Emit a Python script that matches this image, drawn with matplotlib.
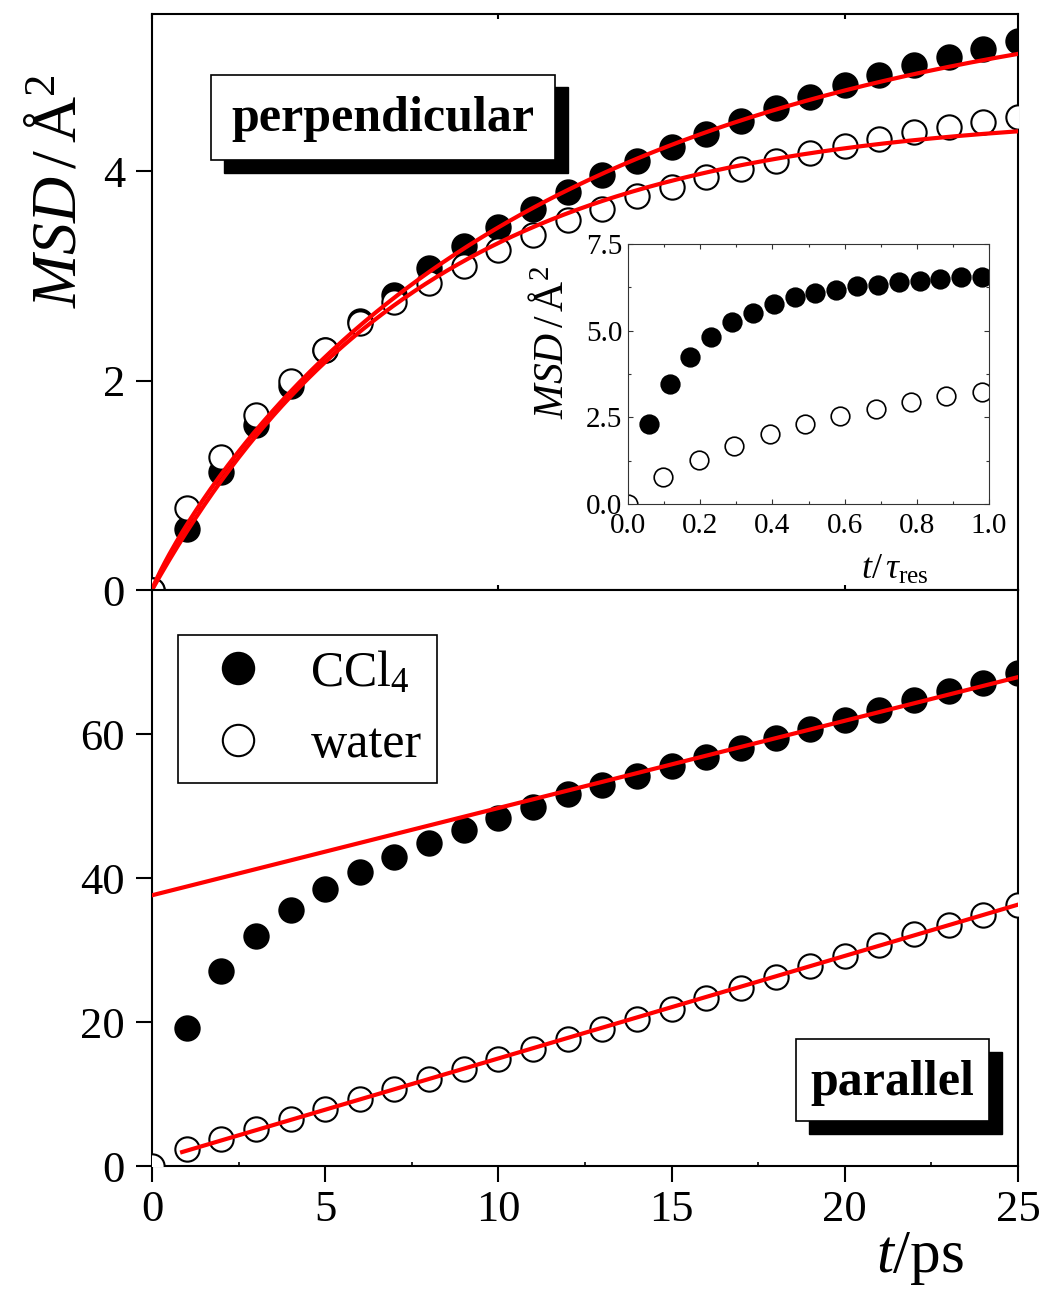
import matplotlib
matplotlib.use('Agg')
import matplotlib.pyplot as plt
import numpy as np
from matplotlib.patches import Rectangle
from matplotlib.lines import Line2D
from matplotlib.ticker import MultipleLocator, FixedLocator

plt.rcParams['font.family'] = ['Liberation Serif', 'DejaVu Serif']
plt.rcParams['mathtext.fontset'] = 'custom'
plt.rcParams['mathtext.rm'] = 'Liberation Serif'
plt.rcParams['mathtext.it'] = 'Liberation Serif:italic'
plt.rcParams['mathtext.bf'] = 'Liberation Serif:bold'

# ---------------- data ----------------
t_ps = list(range(0, 26))
t_ps_from1 = list(range(1, 26))

# perpendicular MSD (Å^2)
perp_ccl4 = [0, 0.58, 1.13, 1.58, 1.95, 2.29, 2.57, 2.82, 3.07, 3.28, 3.47, 3.64, 3.80,
             3.96, 4.10, 4.23, 4.35, 4.48, 4.60, 4.71, 4.82, 4.92, 5.01, 5.09, 5.17, 5.24]
perp_water = [0, 0.78, 1.27, 1.67, 2.00, 2.29, 2.55, 2.75, 2.93, 3.09, 3.25, 3.39, 3.53,
              3.64, 3.76, 3.85, 3.94, 4.02, 4.10, 4.17, 4.24, 4.31, 4.37, 4.42, 4.47, 4.52]

# fit parameters A*(1-exp(-(t/tau)^beta)) for perpendicular
fit_ccl4_A, fit_ccl4_tau, fit_ccl4_beta = 5.91, 11.5, 0.9
fit_water_A, fit_water_tau, fit_water_beta = 4.557, 7.7, 1.0

# parallel MSD (Å^2)
par_ccl4 = [19.2, 27.1, 31.9, 35.6, 38.5, 40.9, 42.9, 44.8, 46.6, 48.4, 49.9, 51.6,
            52.9, 54.2, 55.5, 56.8, 58.1, 59.4, 60.7, 61.9, 63.3, 64.7, 66.0, 67.1, 68.5]
par_water = [0, 2.4, 3.7, 5.1, 6.5, 7.9, 9.3, 10.7, 12.1, 13.5, 14.8, 16.2, 17.6, 19.0,
             20.4, 21.8, 23.3, 24.7, 26.2, 27.8, 29.2, 30.7, 32.2, 33.5, 34.8, 36.2]

# linear fits for parallel (endpoints)
lin_ccl4_t = [0.0, 25.0]
lin_ccl4_y = [37.6, 67.9]
lin_water_t = [0.87, 25.0]
lin_water_y = [1.94, 36.3]

# inset: MSD vs t/tau_res
ins_ccl4_x = [0.058, 0.116, 0.173, 0.231, 0.288, 0.346, 0.404, 0.462, 0.519, 0.577,
              0.635, 0.692, 0.750, 0.808, 0.865, 0.923, 0.981]
ins_ccl4_y = [2.30, 3.46, 4.24, 4.81, 5.25, 5.51, 5.77, 5.96, 6.08, 6.18, 6.28, 6.32,
              6.40, 6.44, 6.50, 6.54, 6.55]
ins_water_x = [0.0, 0.098, 0.196, 0.294, 0.392, 0.490, 0.588, 0.686, 0.784, 0.882, 0.980]
ins_water_y = [0.0, 0.79, 1.27, 1.67, 2.01, 2.30, 2.54, 2.74, 2.94, 3.11, 3.24]

labels = ['CCl$_4$', 'water']

# ---------------- figure ----------------
W, H = 1045, 1290
fig = plt.figure(figsize=(W / 100, H / 100), dpi=100)

L = 152 / W
AW = 866 / W
AH = 576 / H
ax_top = fig.add_axes([L, (H - 590) / H, AW, AH])
ax_bot = fig.add_axes([L, (H - 1166) / H, AW, AH])

MS = 17.5
MEW = 1.5
RED = '#ff0000'

def style_main(ax):
    for s in ax.spines.values():
        s.set_linewidth(1.5)
    ax.tick_params(axis='both', which='major', labelsize=32, width=1.5)

def stretched(t, A, tau, beta):
    return A * (1 - np.exp(-(t / tau) ** beta))

# top panel
ax_top.plot(t_ps, perp_ccl4, ls='none', marker='o', ms=MS, mfc='black', mec='black', mew=MEW, zorder=2)
ax_top.plot(t_ps, perp_water, ls='none', marker='o', ms=MS, mfc='white', mec='black', mew=MEW, zorder=3)
tt = np.linspace(0, 25, 400)
ax_top.plot(tt, stretched(tt, fit_ccl4_A, fit_ccl4_tau, fit_ccl4_beta), color=RED, lw=3, zorder=4)
ax_top.plot(tt, stretched(tt, fit_water_A, fit_water_tau, fit_water_beta), color=RED, lw=3, zorder=4)
ax_top.set_xlim(0, 25)
ax_top.set_ylim(0, 5.5)
style_main(ax_top)
ax_top.set_yticks([0, 2, 4])
ax_top.tick_params(axis='y', which='major', direction='out', length=11.5, pad=8, left=True, right=False)
ax_top.set_xticks([0, 10, 20])
ax_top.tick_params(axis='x', which='major', direction='in', length=3.5, top=True, bottom=True,
                   labelbottom=False)
ax_top.set_ylabel(r'$MSD\,/\,\mathrm{\AA}^{2}$', fontsize=46, va='center')
ax_top.yaxis.set_label_coords(-0.106, 0.693)

# bottom panel
ax_bot.plot(t_ps_from1, par_ccl4, ls='none', marker='o', ms=MS, mfc='black', mec='black', mew=MEW, zorder=2)
ax_bot.plot(t_ps, par_water, ls='none', marker='o', ms=MS, mfc='white', mec='black', mew=MEW, zorder=3)
ax_bot.plot(lin_ccl4_t, lin_ccl4_y, color=RED, lw=3, zorder=4)
ax_bot.plot(lin_water_t, lin_water_y, color=RED, lw=3, zorder=4)
ax_bot.set_xlim(0, 25)
ax_bot.set_ylim(0, 80)
style_main(ax_bot)
ax_bot.set_yticks([0, 20, 40, 60])
ax_bot.set_xticks([0, 5, 10, 15, 20, 25])
ax_bot.xaxis.set_minor_locator(FixedLocator([2.5, 7.5, 12.5, 17.5, 22.5]))
ax_bot.tick_params(axis='y', which='major', direction='out', length=11.5, pad=8)
ax_bot.tick_params(axis='x', which='major', direction='out', length=11.5, pad=6)
ax_bot.tick_params(axis='x', which='minor', direction='in', length=3, width=1.2)
ax_bot.set_xlabel(r'$t$/ps', fontsize=44, va='center')
ax_bot.xaxis.set_label_coords(0.887, -0.160)

handles = [Line2D([], [], ls='none', marker='o', ms=MS, mfc='black', mec='black', mew=MEW),
           Line2D([], [], ls='none', marker='o', ms=MS, mfc='white', mec='black', mew=MEW)]
leg = ax_bot.legend(handles, labels, loc='upper left', bbox_to_anchor=(0.030, 0.922),
                    fontsize=36, markerscale=1.29, frameon=True, fancybox=False,
                    edgecolor='black', framealpha=1, borderaxespad=0, handlelength=1.8,
                    handletextpad=0.55, labelspacing=0.5, borderpad=0.3)
leg.get_frame().set_linewidth(1.2)

# inset
ax_in = fig.add_axes([628 / W, (H - 504) / H, 361 / W, 260 / H])
ax_in.plot(ins_ccl4_x, ins_ccl4_y, ls='none', marker='o', ms=13.4, mfc='black', mec='black', mew=1.2)
ax_in.plot(ins_water_x, ins_water_y, ls='none', marker='o', ms=13.4, mfc='white', mec='black', mew=1.2)
ax_in.set_xlim(0, 1)
ax_in.set_ylim(0, 7.5)
ax_in.xaxis.set_major_locator(MultipleLocator(0.2))
ax_in.xaxis.set_minor_locator(MultipleLocator(0.1))
ax_in.yaxis.set_major_locator(MultipleLocator(2.5))
ax_in.yaxis.set_minor_locator(MultipleLocator(1.25))
for s in ax_in.spines.values():
    s.set_linewidth(0.8)
    s.set_color('#333333')
ax_in.tick_params(axis='both', which='both', direction='in', top=True, right=True,
                  color='#333333', width=0.8)
ax_in.tick_params(axis='both', which='major', length=3.5, labelsize=21)
ax_in.tick_params(axis='both', which='minor', length=2)
ax_in.tick_params(axis='x', which='major', pad=6.5)
ax_in.tick_params(axis='y', which='major', pad=4)
ax_in.set_ylabel(r'$MSD\,/\,\mathrm{\AA}^{2}$', fontsize=30, va='center')
ax_in.yaxis.set_label_coords(-0.21, 0.62)
ax_in.set_xlabel(r'$t/\,\tau_{\mathrm{res}}$', fontsize=26, va='center')
ax_in.xaxis.set_label_coords(0.74, -0.255)

# shadowed text boxes (pixel layout)
def shadow_box(x0, y0, x1, y1, off, text, tx, ty):
    fig.add_artist(Rectangle(((x0 + off) / W, 1 - (y1 + off) / H), (x1 - x0) / W, (y1 - y0) / H,
                             transform=fig.transFigure, fc='black', ec='black', lw=1, zorder=10))
    fig.add_artist(Rectangle((x0 / W, 1 - y1 / H), (x1 - x0) / W, (y1 - y0) / H,
                             transform=fig.transFigure, fc='white', ec='black', lw=1.2, zorder=11))
    fig.text(tx / W, 1 - ty / H, text, fontsize=36, fontweight='bold', ha='center', va='center',
             zorder=12)

shadow_box(211, 75, 555, 160, 12.5, 'perpendicular', 383, 119)
shadow_box(796, 1039, 989, 1121, 13, 'parallel', 892, 1083)

fig.savefig('out.png', dpi=100)
